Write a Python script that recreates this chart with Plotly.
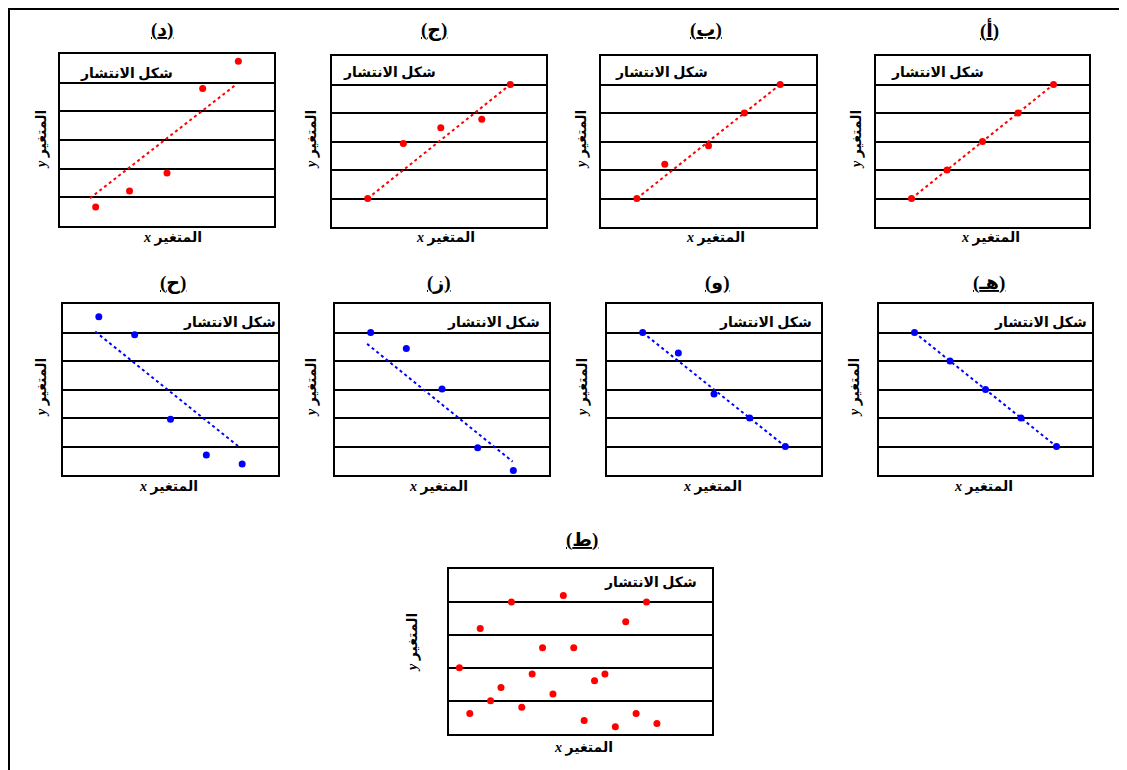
import plotly.graph_objects as go

# page has an 8px body margin: figure drawn at (8,8) in the window
OFF = 8
W, H = 1127 - OFF, 770 - OFF

# ---------------- data ----------------
panel_labels = ["(أ)", "(ب)", "(ج)", "(د)", "(هـ)", "(و)", "(ز)", "(ح)", "(ط)"]
scatter_title = "شكل الانتشار"
x_label = "<i>x</i> المتغير"
y_label = "<i>y</i> المتغير"

a_x = [1, 2, 3, 4, 5]
a_y = [1, 2, 3, 4, 5]
a_line_x = [1, 5]
a_line_y = [1, 5]

b_x = [1, 1.78, 3, 4, 5]
b_y = [1, 2.2, 2.85, 4.0, 5]
b_line_x = [1, 5]
b_line_y = [1, 5]

j_x = [1, 2, 3.05, 4.2, 5]
j_y = [1, 2.93, 3.48, 3.78, 5]
j_line_x = [1, 5]
j_line_y = [1, 5]

d_x = [1, 1.95, 3, 4, 5]
d_y = [0.66, 1.22, 1.85, 4.8, 5.75]
d_line_x = [0.84, 4.9]
d_line_y = [0.97, 4.9]

h_x = [1, 2, 3, 4, 5]
h_y = [5, 4, 3, 2, 1]
h_line_x = [1, 5]
h_line_y = [5, 1]

w_x = [1, 2, 3, 4, 5]
w_y = [5, 4.28, 2.84, 2.0, 1]
w_line_x = [1, 5]
w_line_y = [5, 1]

z_x = [1, 2, 3, 4, 5]
z_y = [5, 4.44, 3.02, 0.96, 0.16]
z_line_x = [0.9, 4.98]
z_line_y = [4.6, 0.47]

ha_x = [1, 2, 3, 4, 5]
ha_y = [5.55, 4.92, 1.96, 0.7, 0.39]
ha_line_x = [0.9, 4.93]
ha_line_y = [5.03, 0.97]

t_x = [1, 2, 3, 4, 5, 6, 7, 8, 9, 10, 11, 12, 13, 14, 15, 16, 17, 18, 19, 20]
t_y = [2.01, 0.62, 3.2, 1.01, 1.41, 4.0, 0.81, 1.82, 2.61, 1.21,
       4.2, 2.61, 0.41, 1.61, 1.82, 0.22, 3.4, 0.62, 4.0, 0.32]

RED = "#ff0000"
BLUE = "#0000ff"

# ---------------- layout geometry (window pixels) ----------------
panels = [
    dict(lab=0, pts=(a_x, a_y), ln=(a_line_x, a_line_y), c=RED, box=(876, 1089, 56, 227),
         t=(989, 30), yl=(857, 140), xl=(990, 238), st=(889, 72, "left"), xr=6, yr=6),
    dict(lab=1, pts=(b_x, b_y), ln=(b_line_x, b_line_y), c=RED, box=(601, 816, 56, 227),
         t=(706, 30), yl=(582, 140), xl=(715, 238), st=(613, 72, "left"), xr=6, yr=6),
    dict(lab=2, pts=(j_x, j_y), ln=(j_line_x, j_line_y), c=RED, box=(332, 546, 56, 227),
         t=(434, 30), yl=(312, 140), xl=(445, 238), st=(341, 72, "left"), xr=6, yr=6),
    dict(lab=3, pts=(d_x, d_y), ln=(d_line_x, d_line_y), c=RED, box=(60, 274, 54, 226),
         t=(162, 30), yl=(42, 140), xl=(173, 238), st=(78, 73, "left"), xr=6, yr=6),
    dict(lab=4, pts=(h_x, h_y), ln=(h_line_x, h_line_y), c=BLUE, box=(879, 1092, 304, 475),
         t=(989, 283), yl=(855, 388), xl=(983, 487), st=(1089, 323, "right"), xr=6, yr=6),
    dict(lab=5, pts=(w_x, w_y), ln=(w_line_x, w_line_y), c=BLUE, box=(607, 821, 304, 475),
         t=(717, 283), yl=(583, 388), xl=(712, 487), st=(814, 323, "right"), xr=6, yr=6),
    dict(lab=6, pts=(z_x, z_y), ln=(z_line_x, z_line_y), c=BLUE, box=(335, 549, 304, 475),
         t=(439, 283), yl=(312, 388), xl=(438, 487), st=(542, 323, "right"), xr=6, yr=6),
    dict(lab=7, pts=(ha_x, ha_y), ln=(ha_line_x, ha_line_y), c=BLUE, box=(63, 278, 304, 475),
         t=(173, 283), yl=(42, 388), xl=(168, 487), st=(278, 323, "right"), xr=6, yr=6),
    dict(lab=8, pts=(t_x, t_y), ln=None, c=RED, box=(449, 712, 569, 734),
         t=(582, 540), yl=(413, 643), xl=(583, 748), st=(699, 582, "right"), xr=25.3, yr=5),
]

FONT = "Times New Roman, Liberation Serif, DejaVu Sans"


def px(x):
    return (x - OFF) / W


def py(y):
    return 1 - (y - OFF) / H


fig = go.Figure()
annotations = []

for i, p in enumerate(panels):
    n = i + 1
    xa = "x" if n == 1 else f"x{n}"
    ya = "y" if n == 1 else f"y{n}"
    x0, x1, y0, y1 = p["box"]
    if p["ln"] is not None:
        fig.add_trace(go.Scatter(x=p["ln"][0], y=p["ln"][1], mode="lines",
                                 line=dict(color=p["c"], width=2, dash="dot"),
                                 xaxis=xa, yaxis=ya, hoverinfo="skip", showlegend=False))
    fig.add_trace(go.Scatter(x=p["pts"][0], y=p["pts"][1], mode="markers",
                             marker=dict(color=p["c"], size=7),
                             xaxis=xa, yaxis=ya, showlegend=False, cliponaxis=False))
    axx = dict(domain=[px(x0), px(x1)], range=[0, p["xr"]], showgrid=False, zeroline=False,
               showticklabels=False, ticks="", showline=True, mirror=True,
               linecolor="black", linewidth=2, anchor=ya, fixedrange=True)
    axy = dict(domain=[py(y1), py(y0)], range=[0, p["yr"]], showgrid=True, gridcolor="black",
               gridwidth=1.5, dtick=1, tick0=0, zeroline=False, showticklabels=False, ticks="",
               showline=True, mirror=True, linecolor="black", linewidth=2, anchor=xa,
               fixedrange=True)
    fig.update_layout(**{("xaxis" if n == 1 else f"xaxis{n}"): axx,
                         ("yaxis" if n == 1 else f"yaxis{n}"): axy})

    annotations.append(dict(x=px(p["t"][0]), y=py(p["t"][1]), xref="paper", yref="paper",
                            text=f"<b>{panel_labels[p['lab']]}</b>", showarrow=False,
                            xanchor="center", yanchor="middle",
                            font=dict(size=19, family=FONT, color="black", lineposition="under")))
    annotations.append(dict(x=px(p["yl"][0]), y=py(p["yl"][1]), xref="paper", yref="paper",
                            text=f"<b>{y_label}</b>", showarrow=False, textangle=-90,
                            xanchor="center", yanchor="middle",
                            font=dict(size=14, family=FONT, color="black")))
    annotations.append(dict(x=px(p["xl"][0]), y=py(p["xl"][1]), xref="paper", yref="paper",
                            text=f"<b>{x_label}</b>", showarrow=False,
                            xanchor="center", yanchor="middle",
                            font=dict(size=14, family=FONT, color="black")))
    annotations.append(dict(x=px(p["st"][0]), y=py(p["st"][1]), xref="paper", yref="paper",
                            text=f"<b>{scatter_title}</b>", showarrow=False,
                            xanchor=p["st"][2], yanchor="middle",
                            font=dict(size=14, family=FONT, color="black")))

fig.update_layout(
    width=W, height=H,
    margin=dict(l=0, r=0, t=0, b=0),
    paper_bgcolor="white", plot_bgcolor="white",
    annotations=annotations,
    shapes=[dict(type="rect", xref="paper", yref="paper",
                 x0=px(9), x1=px(1140), y0=py(9), y1=py(790),
                 line=dict(color="black", width=2))],
)

fig.write_html("out.html")
